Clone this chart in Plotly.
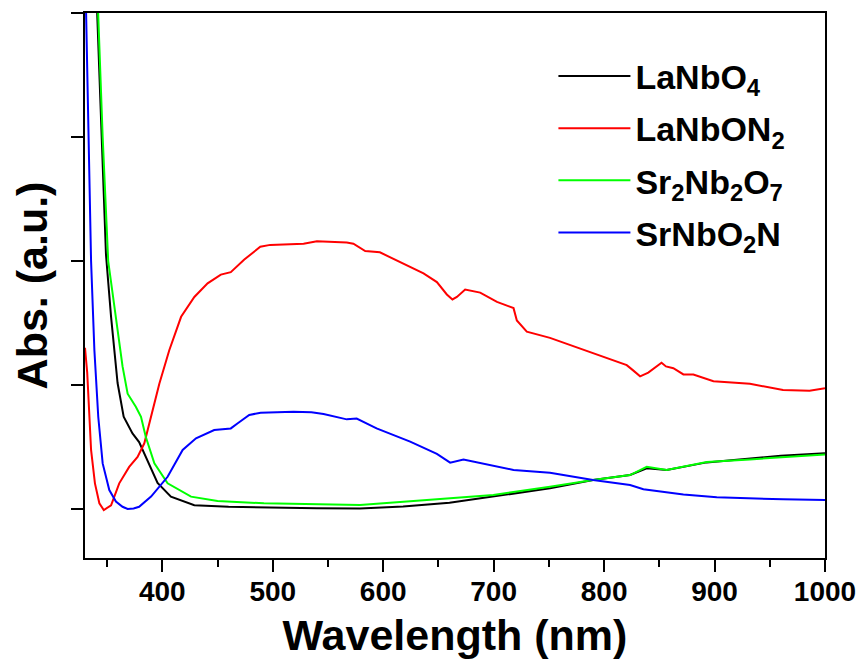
import plotly.graph_objects as go

# ---- data ----
names = ["LaNbO<sub>4</sub>", "LaNbON<sub>2</sub>",
         "Sr<sub>2</sub>Nb<sub>2</sub>O<sub>7</sub>", "SrNbO<sub>2</sub>N"]
colors = ["#000000", "#ff0000", "#00ff00", "#0000ff"]

lanbo4_x = [340, 345, 349, 353.6, 359.5, 365, 373, 379, 385.3, 395.7, 407.8, 429, 460, 492,
            540, 579, 618, 660, 700, 751, 790, 823.5, 838.6, 856.7, 892.9, 932, 960, 1000]
lanbo4_y = [4.25, 3.0, 2.05, 1.55, 1.016, 0.744, 0.61, 0.54, 0.42, 0.21, 0.10, 0.03, 0.018, 0.012,
            0.006, 0.005, 0.02, 0.05, 0.10, 0.167, 0.234, 0.274, 0.328, 0.314, 0.376, 0.41, 0.43, 0.449]

lanbon2_x = [330, 332, 335.5, 339, 343, 347, 353.6, 361, 370, 377.6, 383.7, 389.8, 397.3, 406.3,
             417, 429, 441, 453, 462, 474, 488.7, 497.7, 512, 527.9, 540, 555, 567, 573, 583.7,
             597, 618, 636.5, 648.6, 657.6, 662.7, 666.7, 674.2, 687.8, 703, 718, 721, 730, 751,
             785, 820.5, 826, 832.6, 840, 846, 852, 856, 862.7, 871.8, 880.8, 899, 932, 962, 986, 1000]
lanbon2_y = [1.3, 1.1, 0.476, 0.207, 0.046, -0.008, 0.03, 0.207, 0.34, 0.42, 0.53, 0.744, 1.01, 1.28,
             1.55, 1.71, 1.82, 1.89, 1.91, 2.01, 2.115, 2.13, 2.135, 2.14, 2.16, 2.155, 2.15, 2.14, 2.08,
             2.07, 1.98, 1.90, 1.83, 1.73, 1.69, 1.71, 1.77, 1.745, 1.67, 1.62, 1.52, 1.43, 1.38,
             1.27, 1.16, 1.12, 1.07, 1.10, 1.14, 1.18, 1.15, 1.135, 1.085, 1.085, 1.03, 1.01, 0.96, 0.954, 0.973]

sr2nb2o7_x = [341, 346, 351, 358, 364, 368.6, 376, 380.7, 385, 392.8, 404.8, 426, 450, 492,
              579, 639.5, 699.7, 751, 790, 823.5, 838.6, 856.7, 892.9, 932, 1000]
sr2nb2o7_y = [4.22, 3.0, 2.0, 1.55, 1.15, 0.93, 0.825, 0.744, 0.583, 0.368, 0.207, 0.10, 0.065, 0.046,
              0.032, 0.073, 0.113, 0.18, 0.234, 0.274, 0.341, 0.314, 0.38, 0.40, 0.44]

srnbo2n_x = [330, 331, 335.5, 338.5, 342, 346, 352, 358, 364, 368.6, 374, 379, 389.8, 404.8, 418.4,
             430.5, 447, 462, 468, 478.7, 489, 505, 518.8, 535, 546, 567, 576, 594, 610, 624.4,
             648.6, 660.6, 672.7, 699.8, 718, 751, 790, 823.5, 835.6, 871.8, 902, 962, 1000]
srnbo2n_y = [4.6, 4.0, 2.0, 1.28, 0.744, 0.368, 0.153, 0.06, 0.018, 0.0, 0.005, 0.018, 0.10, 0.26, 0.476,
             0.57, 0.637, 0.65, 0.69, 0.758, 0.777, 0.78, 0.785, 0.78, 0.766, 0.723, 0.73, 0.65, 0.595, 0.543,
             0.444, 0.374, 0.40, 0.347, 0.315, 0.293, 0.234, 0.194, 0.159, 0.118, 0.094, 0.078, 0.073]

x_tickvals = [400, 500, 600, 700, 800, 900, 1000]
y_tickvals = [0, 1, 2, 3, 4]

series = [(lanbo4_x, lanbo4_y), (lanbon2_x, lanbon2_y),
          (sr2nb2o7_x, sr2nb2o7_y), (srnbo2n_x, srnbo2n_y)]

FONT = "Liberation Sans, Arial, sans-serif"

fig = go.Figure()
for i, ((xs, ys), nm, c) in enumerate(zip(series, names, colors)):
    fig.add_trace(go.Scatter(x=xs, y=ys, mode="lines", name=nm, legendgroup=f"g{i}",
                             line=dict(color=c, width=2)))

fig.update_layout(
    width=862, height=659,
    margin=dict(l=85, r=37, t=13, b=101, autoexpand=False),
    paper_bgcolor="white", plot_bgcolor="white",
    font=dict(family=FONT, color="black", weight="bold"),
    legend=dict(x=0.633, y=0.937, xanchor="left", yanchor="top",
                bgcolor="rgba(0,0,0,0)", itemwidth=72,
                font=dict(family=FONT, size=34, color="black", weight="bold"),
                tracegroupgap=5),
    xaxis=dict(range=[330, 1000], tickvals=x_tickvals, automargin=False,
               ticks="outside", ticklen=12, tickwidth=2, tickcolor="black",
               minor=dict(dtick=50, tick0=0, ticks="outside", ticklen=7, tickwidth=2, tickcolor="black"),
               showline=True, linewidth=2, linecolor="black", mirror=True,
               showgrid=False, zeroline=False, ticklabelstandoff=-5,
               tickfont=dict(family=FONT, size=28, color="black", weight="bold"),
               title=dict(text="Wavelength (nm)", standoff=23,
                          font=dict(family=FONT, size=43, color="black", weight="bold"))),
    yaxis=dict(range=[-0.395, 4.0], tickvals=y_tickvals, showticklabels=False, automargin=False,
               ticks="outside", ticklen=12, tickwidth=2, tickcolor="black",
               showline=True, linewidth=2, linecolor="black", mirror=True,
               showgrid=False, zeroline=False,
               title=dict(text="Abs. (a.u.)", standoff=10,
                          font=dict(family=FONT, size=43, color="black", weight="bold"))),
)

fig.write_html("out.html", config={"displayModeBar": False},
               post_script="document.body.style.margin='0';")
